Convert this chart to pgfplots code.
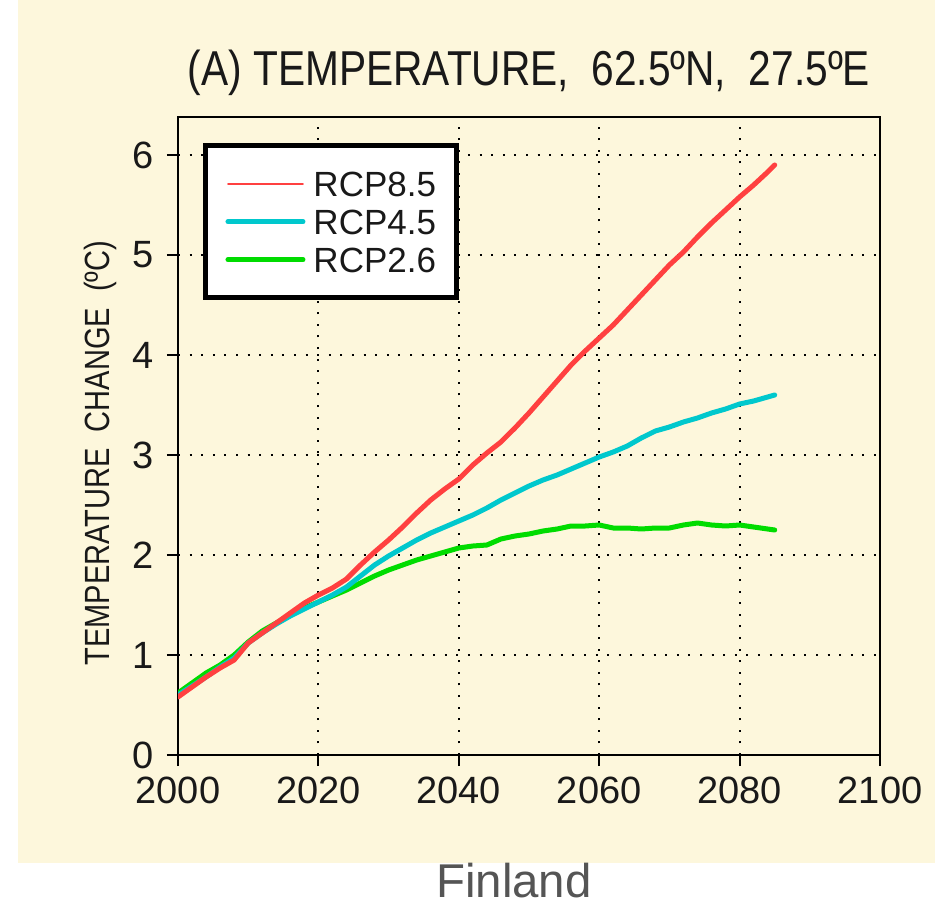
\documentclass[border=0pt]{standalone}
\usepackage{fontspec}
\setmainfont{Liberation Sans}
\newfontfamily\cond[FakeStretch=0.83]{Liberation Sans}
\usepackage{pgfplots}
\pgfplotsset{compat=1.18}
\definecolor{cream}{RGB}{253,247,220}
\definecolor{rcpred}{RGB}{255,64,64}
\definecolor{rcpcyan}{RGB}{0,200,205}
\definecolor{rcpgreen}{RGB}{0,220,0}
\definecolor{labgray}{RGB}{85,85,85}
\definecolor{txt}{RGB}{25,25,25}
\begin{document}
\begin{tikzpicture}
\path[use as bounding box] (-89pt,-75.5pt) rectangle (378.5pt,377.5pt);
\fill[white] (-89pt,-75.5pt) rectangle (378.5pt,377.5pt);
\fill[cream] (-80pt,-54pt) rectangle (378.5pt,377.5pt);
\begin{axis}[
  at={(0pt,0pt)}, anchor=south west,
  scale only axis, width=351pt, height=319pt,
  xmin=2000, xmax=2100, ymin=0, ymax=6.38,
  xtick={2000,2020,...,2100}, ytick={0,1,...,6},
  xtick pos=lower, ytick pos=left,
  tick align=outside, major tick length=5.5pt,
  tick style={black, line width=1pt},
  axis line style={black, line width=1.4pt},
  /pgf/number format/assume math mode=true,
  /pgf/number format/1000 sep={},
  ticklabel style={font=\fontsize{19}{19}\selectfont, text=txt, inner sep=1pt},
  xticklabel style={yshift=-4.5pt},
  yticklabel style={xshift=-5.3pt},
  grid=major,
  major grid style={black, line width=1pt, dash pattern=on 1pt off 4.8pt},
  title={(A) TEMPERATURE,\ \ 62.5ºN,\ \ 27.5ºE},
  title style={font=\cond\fontsize{24.5}{24.5}\selectfont, text=txt, at={(0.5,1)}, anchor=base, yshift=9.5pt},
  ylabel={TEMPERATURE\ \ CHANGE\ \ (ºC)},
  ylabel style={font=\cond\fontsize{17.5}{17.5}\selectfont, text=txt, at={(axis description cs:-0.111,0.473)}, anchor=center},
  reverse legend,
  legend cell align=left,
  legend style={at={(axis description cs:0.0356,0.959)}, anchor=north west,
    draw=black, line width=2.5pt, fill=white,
    inner xsep=10pt, inner ysep=9.5pt, row sep=0pt, column sep=4pt,
    font=\fontsize{17.5}{17.5}\selectfont, text=txt,
    nodes={inner sep=0pt, text height=15.75pt, text depth=3.25pt}},
  legend image code/.code={\draw[#1] (0pt,0pt) -- (37.5pt,0pt);},
  every axis plot/.append style={line width=2.5pt, line join=round, line cap=round},
]
\addplot[rcpgreen] coordinates {
(2000,0.62) (2002,0.72) (2004,0.82) (2006,0.90) (2008,1.00) (2010,1.13)
(2012,1.24) (2014,1.32) (2016,1.40) (2018,1.47) (2020,1.53) (2022,1.59)
(2024,1.65) (2026,1.72) (2028,1.79) (2030,1.85) (2032,1.90) (2034,1.95)
(2036,1.99) (2038,2.03) (2040,2.07) (2042,2.09) (2044,2.10) (2046,2.16)
(2048,2.19) (2050,2.21) (2052,2.24) (2054,2.26) (2056,2.29) (2058,2.29)
(2060,2.30) (2062,2.27) (2064,2.27) (2066,2.26) (2068,2.27) (2070,2.27)
(2072,2.30) (2074,2.32) (2076,2.30) (2078,2.29) (2080,2.30) (2082,2.28)
(2084,2.26) (2085,2.25)};
\addlegendentry{RCP2.6}
\addplot[rcpcyan] coordinates {
(2000,0.60) (2002,0.69) (2004,0.78) (2006,0.88) (2008,0.97) (2010,1.12)
(2012,1.22) (2014,1.31) (2016,1.39) (2018,1.46) (2020,1.53) (2022,1.60)
(2024,1.68) (2026,1.79) (2028,1.90) (2030,1.99) (2032,2.07) (2034,2.15)
(2036,2.22) (2038,2.28) (2040,2.34) (2042,2.40) (2044,2.47) (2046,2.55)
(2048,2.62) (2050,2.69) (2052,2.75) (2054,2.80) (2056,2.86) (2058,2.92)
(2060,2.98) (2062,3.03) (2064,3.09) (2066,3.17) (2068,3.24) (2070,3.28)
(2072,3.33) (2074,3.37) (2076,3.42) (2078,3.46) (2080,3.51) (2082,3.54)
(2084,3.58) (2085,3.60)};
\addlegendentry{RCP4.5}
\addplot[rcpred, legend image code/.code={\draw[##1, line width=0.9pt] (0pt,0pt) -- (37.5pt,0pt);}] coordinates {
(2000,0.58) (2002,0.68) (2004,0.78) (2006,0.87) (2008,0.95) (2010,1.12)
(2012,1.22) (2014,1.32) (2016,1.42) (2018,1.52) (2020,1.60) (2022,1.67)
(2024,1.76) (2026,1.90) (2028,2.03) (2030,2.15) (2032,2.28) (2034,2.42)
(2036,2.55) (2038,2.66) (2040,2.76) (2042,2.90) (2044,3.02) (2046,3.13)
(2048,3.27) (2050,3.42) (2052,3.58) (2054,3.74) (2056,3.90) (2058,4.04)
(2060,4.17) (2062,4.30) (2064,4.45) (2066,4.60) (2068,4.75) (2070,4.90)
(2072,5.03) (2074,5.18) (2076,5.32) (2078,5.45) (2080,5.58) (2082,5.70)
(2084,5.83) (2085,5.90)};
\addlegendentry{RCP8.5}
\end{axis}
\node[anchor=base, inner sep=1pt, font=\fontsize{23.7}{24}\selectfont, text=labgray] at (168pt,-71pt) {Finland};
\end{tikzpicture}
\end{document}
